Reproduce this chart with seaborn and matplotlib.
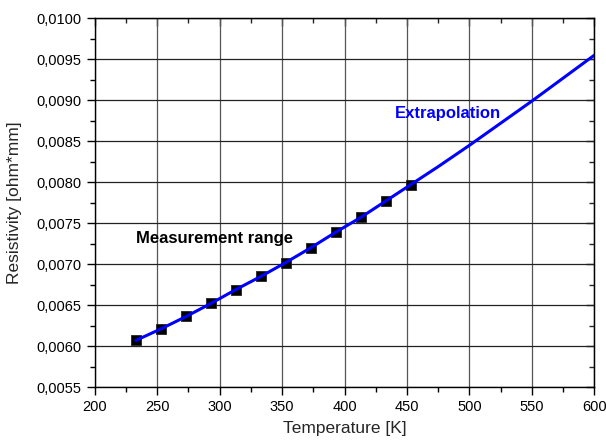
import matplotlib
matplotlib.use('Agg')
import matplotlib.pyplot as plt
import matplotlib.ticker as mticker
import seaborn as sns
import pandas as pd

# measured points
temp_meas = [233, 253, 273, 293, 313, 333, 353, 373, 393, 413, 433, 453]
rho_meas = [0.00607, 0.00621, 0.00637, 0.00653, 0.00669, 0.00686, 0.00702,
            0.00720, 0.00739, 0.00757, 0.00777, 0.00797]

# fitted / extrapolated curve
temp_fit = [233, 253, 273, 293, 313, 333, 353, 373, 393, 413, 433, 453,
            475, 500, 525, 550, 575, 600]
rho_fit = [0.00607, 0.00621, 0.00636, 0.00652, 0.00669, 0.00685, 0.00702,
           0.00720, 0.00739, 0.00757, 0.00777, 0.00797,
           0.00819, 0.00845, 0.00872, 0.00899, 0.00927, 0.00955]

meas = pd.DataFrame({'T': temp_meas, 'rho': rho_meas})
fit = pd.DataFrame({'T': temp_fit, 'rho': rho_fit})

sns.set_style('ticks')
plt.rcParams['font.family'] = ['Liberation Sans', 'DejaVu Sans']

fig = plt.figure(figsize=(6.06, 4.43), dpi=100)
ax = fig.add_axes([0.156, 0.126, 0.825, 0.833])

# grid: vertical lines a bit lighter than horizontal ones
ax.xaxis.grid(True, which='major', color='#555555', linewidth=0.9)
ax.yaxis.grid(True, which='major', color='#222222', linewidth=0.9)
ax.set_axisbelow(True)

sns.scatterplot(data=meas, x='T', y='rho', marker='s', s=60, color='black',
                edgecolor='#222222', linewidth=0.6, ax=ax, zorder=3)
sns.lineplot(data=fit, x='T', y='rho', color='#0000ff', linewidth=2.2,
             ax=ax, zorder=4)

ax.set_xlim(200, 600)
ax.set_ylim(0.0055, 0.0100)
ax.xaxis.set_major_locator(mticker.MultipleLocator(50))
ax.xaxis.set_minor_locator(mticker.MultipleLocator(25))
ax.yaxis.set_major_locator(mticker.MultipleLocator(0.0005))
ax.yaxis.set_minor_locator(mticker.MultipleLocator(0.00025))
ax.yaxis.set_major_formatter(mticker.FuncFormatter(lambda v, p: f'{v:.4f}'.replace('.', ',')))

ax.tick_params(which='both', direction='out', colors='black', labelsize=10.5,
               top=False, right=False)
ax.tick_params(which='major', length=6, width=1)
ax.tick_params(which='minor', length=3.5, width=1)
# inward ticks on top and right
ax2 = ax.secondary_xaxis('top')
ax2.xaxis.set_major_locator(mticker.MultipleLocator(50))
ax2.xaxis.set_minor_locator(mticker.MultipleLocator(25))
ax2.tick_params(which='both', direction='in', labeltop=False)
ax2.tick_params(which='major', length=6, width=1)
ax2.tick_params(which='minor', length=3.5, width=1)
ax3 = ax.secondary_yaxis('right')
ax3.yaxis.set_major_locator(mticker.MultipleLocator(0.0005))
ax3.yaxis.set_minor_locator(mticker.MultipleLocator(0.00025))
ax3.tick_params(which='both', direction='in', labelright=False)
ax3.tick_params(which='major', length=6, width=1)
ax3.tick_params(which='minor', length=3.5, width=1)

for sp in ax.spines.values():
    sp.set_color('black')
    sp.set_linewidth(1)

ax.set_xlabel('Temperature [K]', fontsize=12.5, labelpad=5)
ax.set_ylabel('Resistivity [ohm*mm]', fontsize=12.5, labelpad=10)

ax.text(296, 0.00731, 'Measurement range', fontsize=12, fontweight='bold',
        color='black', ha='center', va='center')
ax.text(483, 0.00884, 'Extrapolation', fontsize=12, fontweight='bold',
        color='#0000ff', ha='center', va='center')

fig.savefig('out.png', dpi=100)
